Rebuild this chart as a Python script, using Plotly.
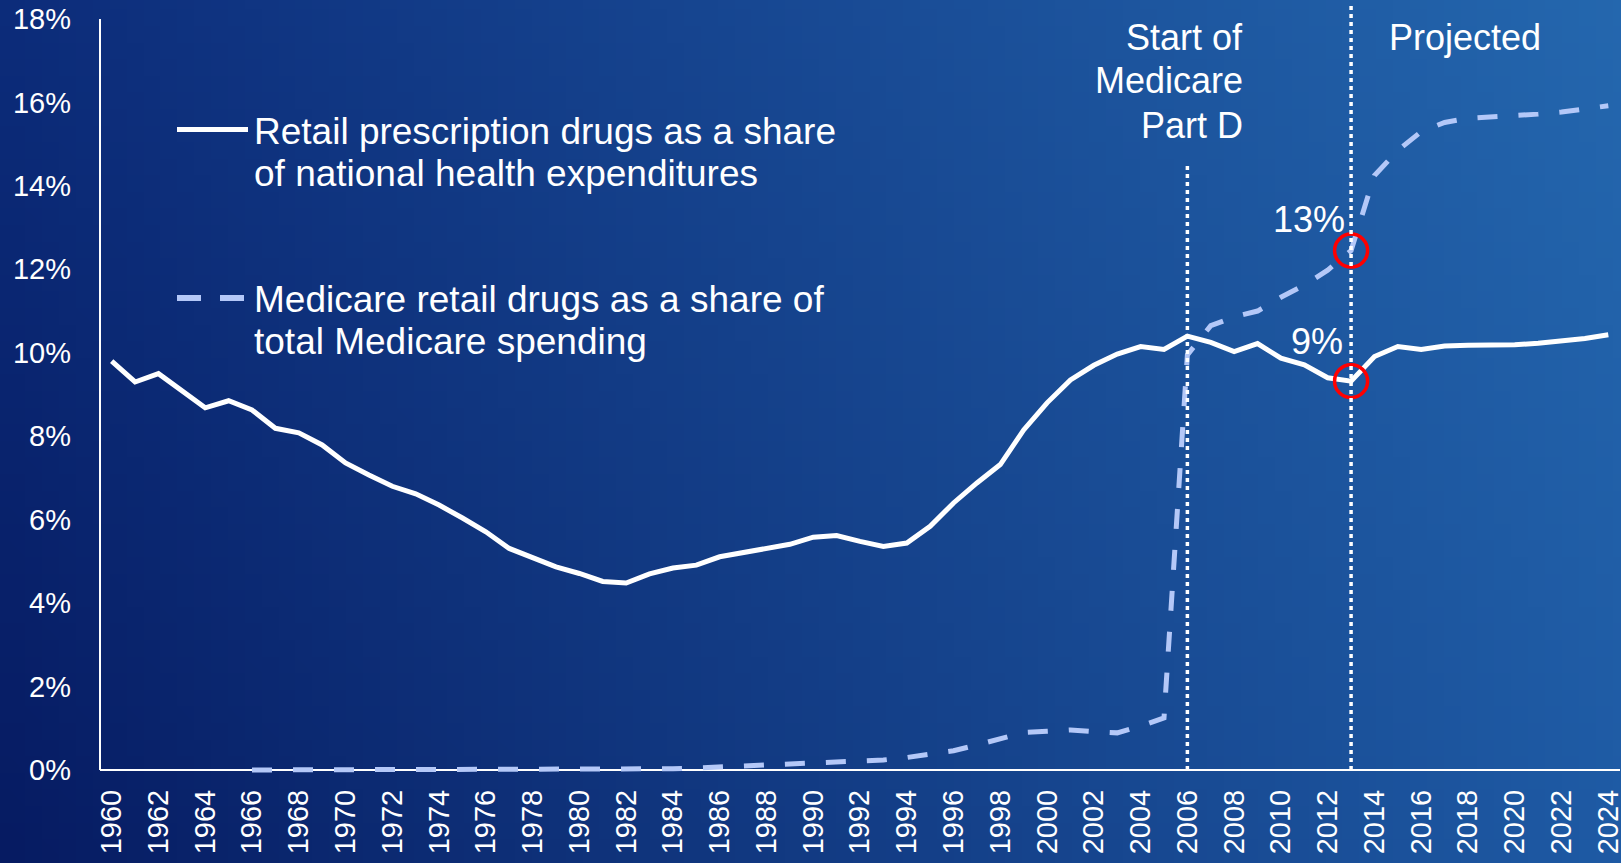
import base64
import struct
import zlib
import plotly.graph_objects as go

# ---------------- data ----------------
years = list(range(1960, 2025))
retail_share = [
    9.80, 9.30, 9.50, 9.09, 8.68, 8.85, 8.63, 8.19, 8.08, 7.79,
    7.36, 7.07, 6.80, 6.62, 6.35, 6.04, 5.71, 5.31, 5.08, 4.87,
    4.71, 4.52, 4.48, 4.70, 4.84, 4.91, 5.11, 5.21, 5.31, 5.41,
    5.58, 5.62, 5.48, 5.36, 5.44, 5.84, 6.40, 6.88, 7.32, 8.15,
    8.80, 9.35, 9.70, 9.97, 10.15, 10.08, 10.40, 10.25, 10.03, 10.22,
    9.87, 9.71, 9.40, 9.32, 9.91, 10.15, 10.08, 10.16, 10.18, 10.18,
    10.19, 10.23, 10.28, 10.34, 10.43,
]
medicare_years = list(range(1966, 2025))
medicare_share = [
    0.00, 0.00, 0.00, 0.00, 0.00, 0.00, 0.00, 0.00, 0.00, 0.00,
    0.00, 0.00, 0.00, 0.00, 0.00, 0.00, 0.00, 0.01, 0.03, 0.05,
    0.07, 0.09, 0.11, 0.13, 0.15, 0.18, 0.21, 0.24, 0.30, 0.37,
    0.46, 0.60, 0.74, 0.90, 0.93, 0.96, 0.92, 0.89, 1.05, 1.25,
    9.95, 10.65, 10.86, 11.00, 11.33, 11.62, 11.98, 12.45, 14.25, 14.85,
    15.30, 15.52, 15.62, 15.65, 15.68, 15.72, 15.77, 15.84, 15.92,
]
x_tick_years = list(range(1960, 2025, 2))
x_tick_labels = [str(y) for y in x_tick_years]
y_tick_values = list(range(0, 19, 2))
y_tick_labels = [f"{v}%" for v in y_tick_values]
part_d_year = 2006
projection_year = 2013
series_names = [
    ["Retail prescription drugs as a share", "of national health expenditures"],
    ["Medicare retail drugs as a share of", "total Medicare spending"],
]

# ---------------- styling ----------------
FONT = "Liberation Sans, Arial, sans-serif"
WHITE = "#FFFFFF"
DASH_COLOR = "#B4C8F8"
W, H = 1621, 863
PL, PR, PT, PB = 100, 1620, 19, 775   # plot area in pixels
Y_MIN, Y_MAX = -0.12, 18.0


def fx(px):
    return (px - PL) / (PR - PL)


def fy(py):
    return (PB - py) / (PB - PT)


def gradient_png(w, h):
    tl, tr = (12, 44, 122), (36, 103, 174)
    bl, br = (6, 27, 98), (30, 90, 164)
    rows = []
    for j in range(h):
        v = j / (h - 1)
        row = bytearray([0])
        for i in range(w):
            u = i / (w - 1)
            for c in range(3):
                top = tl[c] * (1 - u) + tr[c] * u
                bot = bl[c] * (1 - u) + br[c] * u
                row.append(int(round(top * (1 - v) + bot * v)))
        rows.append(bytes(row))
    raw = b"".join(rows)

    def chunk(tag, data):
        c = struct.pack(">I", len(data)) + tag + data
        return c + struct.pack(">I", zlib.crc32(tag + data) & 0xFFFFFFFF)

    png = b"\x89PNG\r\n\x1a\n"
    png += chunk(b"IHDR", struct.pack(">IIBBBBB", w, h, 8, 2, 0, 0, 0))
    png += chunk(b"IDAT", zlib.compress(raw, 9))
    png += chunk(b"IEND", b"")
    return "data:image/png;base64," + base64.b64encode(png).decode()


fig = go.Figure()
fig.add_trace(go.Scatter(
    x=years, y=retail_share, mode="lines",
    line=dict(color=WHITE, width=5), showlegend=False, hoverinfo="skip",
))
fig.add_trace(go.Scatter(
    x=medicare_years, y=medicare_share, mode="lines",
    line=dict(color=DASH_COLOR, width=5, dash="20px,21px"),
    showlegend=False, hoverinfo="skip",
))
# highlighted points at the start of projections
hi_idx_r = years.index(projection_year)
hi_idx_m = medicare_years.index(projection_year)
fig.add_trace(go.Scatter(
    x=[projection_year, projection_year],
    y=[medicare_share[hi_idx_m], retail_share[hi_idx_r]],
    mode="markers",
    marker=dict(symbol="circle-open", size=33, color="#FF0000",
                line=dict(color="#FF0000", width=3.5)),
    showlegend=False, hoverinfo="skip", cliponaxis=False,
))

shapes = [
    # axis lines
    dict(type="line", xref="paper", yref="y", x0=0, x1=1, y0=0, y1=0,
         line=dict(color=WHITE, width=2), layer="below"),
    dict(type="line", xref="paper", yref="y", x0=0, x1=0, y0=0, y1=Y_MAX,
         line=dict(color=WHITE, width=2), layer="below"),
    # dotted event lines
    dict(type="line", xref="x", yref="paper", x0=part_d_year, x1=part_d_year,
         y0=fy(PB - 5), y1=fy(166), line=dict(color=WHITE, width=3.5, dash="4px,4px")),
    dict(type="line", xref="x", yref="paper", x0=projection_year, x1=projection_year,
         y0=fy(PB - 5), y1=fy(4), line=dict(color=WHITE, width=3.5, dash="4px,4px")),
    # legend samples
    dict(type="line", xref="paper", yref="paper", x0=fx(177), x1=fx(248),
         y0=fy(129.5), y1=fy(129.5), line=dict(color=WHITE, width=5)),
    dict(type="line", xref="paper", yref="paper", x0=fx(177), x1=fx(244),
         y0=fy(298), y1=fy(298), line=dict(color=DASH_COLOR, width=6, dash="24px,19px")),
]

annotations = []


def txt(text, x, y, xanchor="left", size=36):
    annotations.append(dict(
        text=text, xref="paper", yref="paper", x=fx(x), y=fy(y),
        xanchor=xanchor, yanchor="middle", showarrow=False,
        font=dict(family=FONT, size=size, color=WHITE),
    ))


txt(series_names[0][0], 252, 132, size=37)
txt(series_names[0][1], 252, 173, size=37)
txt(series_names[1][0], 252, 299, size=37)
txt(series_names[1][1], 252, 341, size=37)
txt("Start of", 1245, 37, "right")
txt("Medicare", 1245, 81, "right")
txt("Part D", 1245, 125, "right")
txt("Projected", 1387, 37, "left")
txt("13%", 1347, 219, "right")
txt("9%", 1345, 341, "right")

fig.update_layout(
    width=W, height=H,
    margin=dict(l=PL, r=W - PR, t=PT, b=H - PB, pad=0, autoexpand=False),
    paper_bgcolor="#0C2A74",
    plot_bgcolor="rgba(0,0,0,0)",
    font=dict(family=FONT, size=29, color=WHITE),
    shapes=shapes,
    annotations=annotations,
    images=[dict(
        source=gradient_png(96, 52), xref="paper", yref="paper",
        x=fx(0), y=fy(0), sizex=W / (PR - PL), sizey=H / (PB - PT),
        xanchor="left", yanchor="top", sizing="stretch", layer="below",
    )],
    xaxis=dict(
        range=[1959.5, 2024.5], tickvals=x_tick_years, ticktext=x_tick_labels,
        tickangle=-90, showgrid=False, zeroline=False, showline=False,
        ticks="", ticklabelstandoff=8, ticklabeloverflow="allow",
        automargin=False,
        tickfont=dict(size=29, color=WHITE), fixedrange=True,
    ),
    yaxis=dict(
        range=[Y_MIN, Y_MAX], tickvals=y_tick_values, ticktext=y_tick_labels,
        showgrid=False, zeroline=False, showline=False, ticks="",
        ticklabelstandoff=28, ticklabeloverflow="allow", automargin=False,
        tickfont=dict(size=29, color=WHITE), fixedrange=True,
    ),
)

fig.write_html(
    "out.html",
    config={"displayModeBar": False},
    post_script="document.body.style.margin='0';document.body.style.overflow='hidden';",
)
